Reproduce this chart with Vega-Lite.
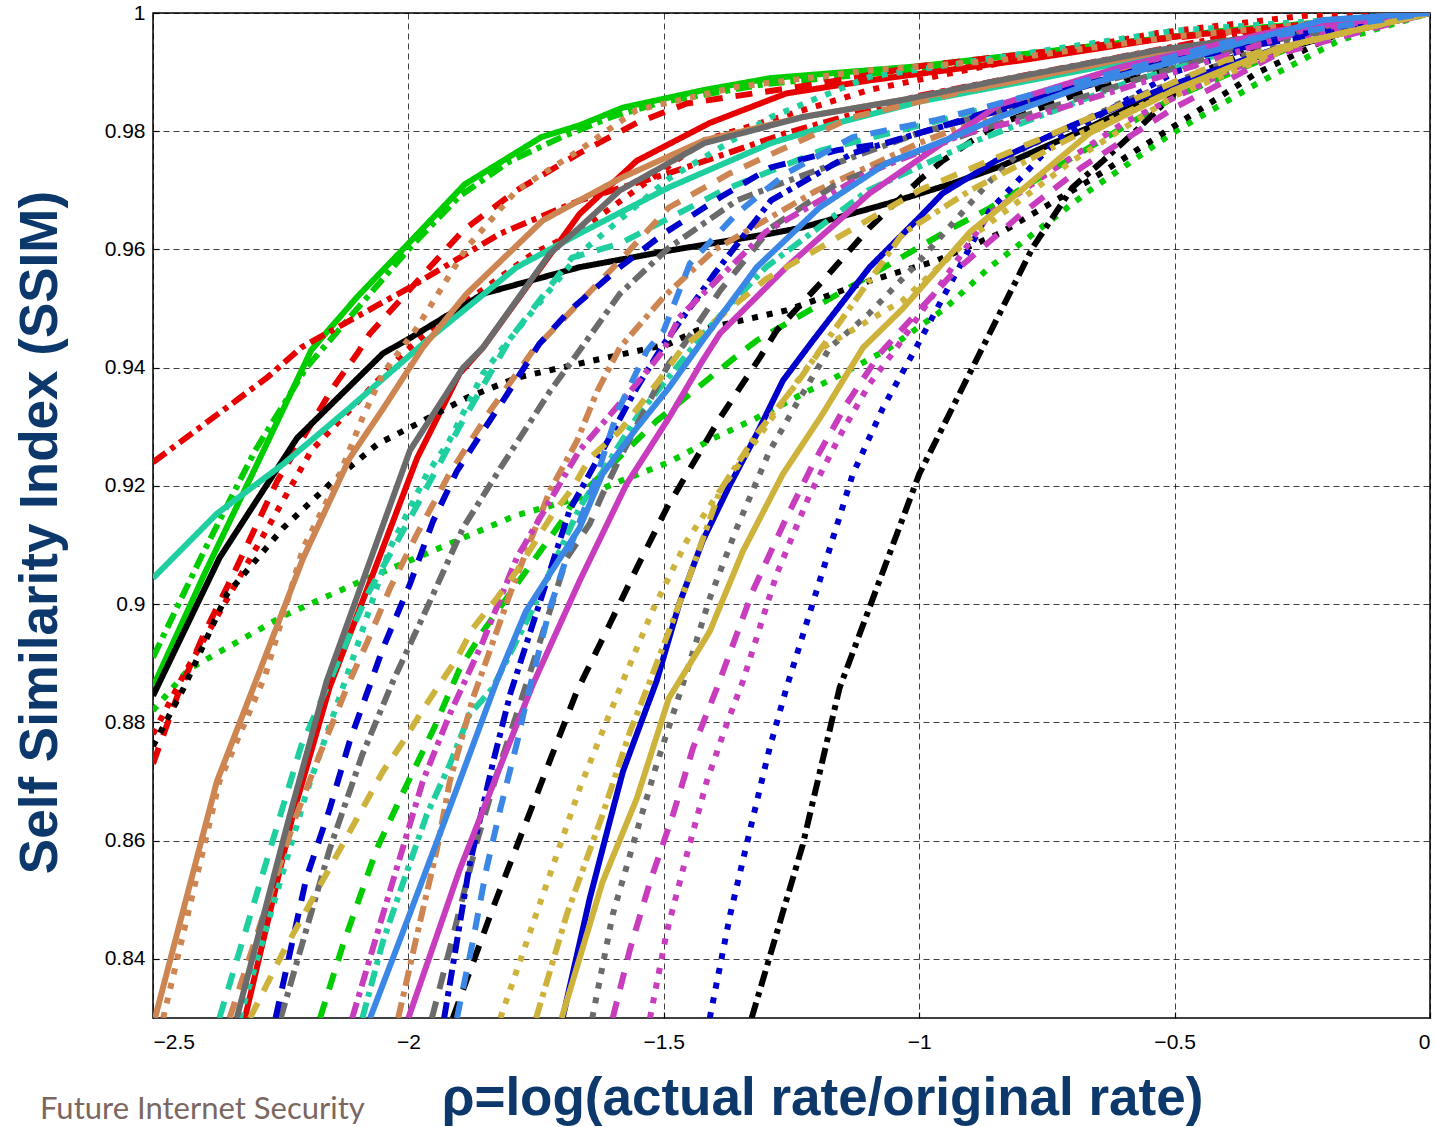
{
  "$schema": "https://vega.github.io/schema/vega-lite/v6.json",
  "width": 1277,
  "height": 1005,
  "autosize": {"type": "none"},
  "padding": {"left": 153, "top": 13, "right": 5, "bottom": 109},
  "background": "white",
  "title": {"text": "Future Internet Security", "orient": "bottom", "anchor": "start", "frame": "group", "font": "Lato", "fontSize": 31, "fontWeight": "normal", "color": "#7b675f", "dx": -113, "offset": -6, "baseline": "alphabetic"},
  "config": {
    "view": {"stroke": "#000000", "strokeWidth": 1.5},
    "axis": {"grid": true, "gridColor": "#000000", "gridDash": [6, 4], "gridOpacity": 0.75, "gridWidth": 1, "domain": false, "ticks": true, "tickSize": -6, "tickColor": "#000000", "tickWidth": 1.2, "labelFont": "Liberation Sans", "labelFontSize": 21, "labelColor": "#000000", "titleFont": "Liberation Sans", "titleFontSize": 53, "titleFontWeight": "bold", "titleColor": "#0c386b"}
  },
  "data": {"values": [
    {"s":"g1","x":-2.5,"y":0.886},{"s":"g1","x":-2.4,"y":0.905},{"s":"g1","x":-2.3,"y":0.923},{"s":"g1","x":-2.19,"y":0.943},{"s":"g1","x":-2.1,"y":0.952},{"s":"g1","x":-2.0,"y":0.961},{"s":"g1","x":-1.89,"y":0.971},{"s":"g1","x":-1.74,"y":0.979},{"s":"g1","x":-1.665,"y":0.981},{"s":"g1","x":-1.58,"y":0.984},{"s":"g1","x":-1.42,"y":0.987},{"s":"g1","x":-1.29,"y":0.989},{"s":"g1","x":-1.0,"y":0.991},{"s":"g1","x":-0.7,"y":0.994},{"s":"g1","x":-0.4,"y":0.997},{"s":"g1","x":0,"y":1},
    {"s":"g2","x":-2.5,"y":0.891},{"s":"g2","x":-2.4,"y":0.909},{"s":"g2","x":-2.3,"y":0.926},{"s":"g2","x":-2.2,"y":0.94},{"s":"g2","x":-2.1,"y":0.95},{"s":"g2","x":-2.0,"y":0.96},{"s":"g2","x":-1.9,"y":0.969},{"s":"g2","x":-1.8,"y":0.975},{"s":"g2","x":-1.7,"y":0.979},{"s":"g2","x":-1.6,"y":0.9825},{"s":"g2","x":-1.5,"y":0.985},{"s":"g2","x":-1.3,"y":0.988},{"s":"g2","x":-1.0,"y":0.9905},{"s":"g2","x":-0.7,"y":0.994},{"s":"g2","x":-0.4,"y":0.997},{"s":"g2","x":0,"y":1},
    {"s":"g3","x":-2.5,"y":0.882},{"s":"g3","x":-2.43,"y":0.889},{"s":"g3","x":-2.245,"y":0.898},{"s":"g3","x":-2.09,"y":0.904},{"s":"g3","x":-1.98,"y":0.908},{"s":"g3","x":-1.79,"y":0.915},{"s":"g3","x":-1.665,"y":0.918},{"s":"g3","x":-1.58,"y":0.921},{"s":"g3","x":-1.49,"y":0.924},{"s":"g3","x":-1.404,"y":0.928},{"s":"g3","x":-1.318,"y":0.9315},{"s":"g3","x":-1.23,"y":0.9355},{"s":"g3","x":-1.15,"y":0.939},{"s":"g3","x":-1.064,"y":0.943},{"s":"g3","x":-0.95,"y":0.95},{"s":"g3","x":-0.862,"y":0.957},{"s":"g3","x":-0.666,"y":0.97},{"s":"g3","x":-0.504,"y":0.9797},{"s":"g3","x":-0.34,"y":0.988},{"s":"g3","x":-0.177,"y":0.9954},{"s":"g3","x":0,"y":1},
    {"s":"g4","x":-2.173,"y":0.83},{"s":"g4","x":-2.128,"y":0.8424},{"s":"g4","x":-2.062,"y":0.8586},{"s":"g4","x":-2.003,"y":0.8695},{"s":"g4","x":-1.95,"y":0.879},{"s":"g4","x":-1.9,"y":0.889},{"s":"g4","x":-1.854,"y":0.8954},{"s":"g4","x":-1.7,"y":0.914},{"s":"g4","x":-1.68,"y":0.917},{"s":"g4","x":-1.514,"y":0.931},{"s":"g4","x":-1.357,"y":0.942},{"s":"g4","x":-1.318,"y":0.9446},{"s":"g4","x":-1.136,"y":0.9536},{"s":"g4","x":-0.934,"y":0.9637},{"s":"g4","x":-0.862,"y":0.967},{"s":"g4","x":-0.672,"y":0.977},{"s":"g4","x":-0.5,"y":0.9858},{"s":"g4","x":-0.25,"y":0.995},{"s":"g4","x":0,"y":1},
    {"s":"r1","x":-2.5,"y":0.924},{"s":"r1","x":-2.277,"y":0.9383},{"s":"r1","x":-2.21,"y":0.9434},{"s":"r1","x":-1.997,"y":0.9536},{"s":"r1","x":-1.82,"y":0.9627},{"s":"r1","x":-1.665,"y":0.9683},{"s":"r1","x":-1.49,"y":0.9729},{"s":"r1","x":-1.26,"y":0.9797},{"s":"r1","x":-1.0,"y":0.986},{"s":"r1","x":-0.7,"y":0.991},{"s":"r1","x":-0.4,"y":0.996},{"s":"r1","x":0,"y":1},
    {"s":"r2","x":-2.5,"y":0.873},{"s":"r2","x":-2.45,"y":0.885},{"s":"r2","x":-2.4,"y":0.895},{"s":"r2","x":-2.343,"y":0.905},{"s":"r2","x":-2.257,"y":0.9208},{"s":"r2","x":-2.148,"y":0.9366},{"s":"r2","x":-2.1,"y":0.9424},{"s":"r2","x":-2.075,"y":0.9458},{"s":"r2","x":-1.893,"y":0.9632},{"s":"r2","x":-1.788,"y":0.97},{"s":"r2","x":-1.665,"y":0.9763},{"s":"r2","x":-1.553,"y":0.9814},{"s":"r2","x":-1.455,"y":0.9847},{"s":"r2","x":-1.2,"y":0.988},{"s":"r2","x":-1.0,"y":0.991},{"s":"r2","x":-0.6,"y":0.995},{"s":"r2","x":0,"y":1},
    {"s":"r3","x":-2.5,"y":0.878},{"s":"r3","x":-2.44,"y":0.888},{"s":"r3","x":-2.29,"y":0.9107},{"s":"r3","x":-2.19,"y":0.926},{"s":"r3","x":-2.08,"y":0.936},{"s":"r3","x":-2.01,"y":0.9424},{"s":"r3","x":-1.93,"y":0.9485},{"s":"r3","x":-1.756,"y":0.9593},{"s":"r3","x":-1.665,"y":0.9632},{"s":"r3","x":-1.42,"y":0.9785},{"s":"r3","x":-1.097,"y":0.987},{"s":"r3","x":-0.843,"y":0.9915},{"s":"r3","x":-0.535,"y":0.9966},{"s":"r3","x":-0.25,"y":0.9995},{"s":"r3","x":0,"y":1},
    {"s":"r4","x":-2.32,"y":0.83},{"s":"r4","x":-2.226,"y":0.8644},{"s":"r4","x":-2.154,"y":0.886},{"s":"r4","x":-2.05,"y":0.9095},{"s":"r4","x":-1.983,"y":0.9247},{"s":"r4","x":-1.9,"y":0.939},{"s":"r4","x":-1.854,"y":0.9434},{"s":"r4","x":-1.665,"y":0.966},{"s":"r4","x":-1.553,"y":0.975},{"s":"r4","x":-1.41,"y":0.9814},{"s":"r4","x":-1.26,"y":0.9864},{"s":"r4","x":-1.097,"y":0.9886},{"s":"r4","x":-0.8,"y":0.992},{"s":"r4","x":-0.5,"y":0.996},{"s":"r4","x":0,"y":1},
    {"s":"k1","x":-2.5,"y":0.8845},{"s":"k1","x":-2.37,"y":0.9078},{"s":"k1","x":-2.218,"y":0.9281},{"s":"k1","x":-2.05,"y":0.9424},{"s":"k1","x":-1.997,"y":0.945},{"s":"k1","x":-1.854,"y":0.9525},{"s":"k1","x":-1.665,"y":0.957},{"s":"k1","x":-1.49,"y":0.9598},{"s":"k1","x":-1.29,"y":0.9627},{"s":"k1","x":-1.23,"y":0.9637},{"s":"k1","x":-1.06,"y":0.9678},{"s":"k1","x":-0.934,"y":0.9712},{"s":"k1","x":-0.843,"y":0.974},{"s":"k1","x":-0.666,"y":0.9807},{"s":"k1","x":-0.504,"y":0.9875},{"s":"k1","x":-0.34,"y":0.9925},{"s":"k1","x":-0.177,"y":0.9966},{"s":"k1","x":0,"y":1},
    {"s":"k2","x":-2.5,"y":0.876},{"s":"k2","x":-2.44,"y":0.8858},{"s":"k2","x":-2.355,"y":0.9017},{"s":"k2","x":-2.245,"y":0.9129},{"s":"k2","x":-2.148,"y":0.9208},{"s":"k2","x":-2.06,"y":0.9271},{"s":"k2","x":-1.983,"y":0.9305},{"s":"k2","x":-1.886,"y":0.9349},{"s":"k2","x":-1.788,"y":0.9383},{"s":"k2","x":-1.665,"y":0.9407},{"s":"k2","x":-1.49,"y":0.944},{"s":"k2","x":-1.435,"y":0.9463},{"s":"k2","x":-1.26,"y":0.9497},{"s":"k2","x":-1.097,"y":0.9547},{"s":"k2","x":-0.966,"y":0.9581},{"s":"k2","x":-0.843,"y":0.9627},{"s":"k2","x":-0.666,"y":0.9717},{"s":"k2","x":-0.504,"y":0.9807},{"s":"k2","x":-0.34,"y":0.9898},{"s":"k2","x":-0.177,"y":0.9966},{"s":"k2","x":0,"y":1},
    {"s":"k3","x":-1.913,"y":0.83},{"s":"k3","x":-1.835,"y":0.8485},{"s":"k3","x":-1.72,"y":0.8742},{"s":"k3","x":-1.67,"y":0.8853},{"s":"k3","x":-1.606,"y":0.8966},{"s":"k3","x":-1.553,"y":0.9061},{"s":"k3","x":-1.494,"y":0.9163},{"s":"k3","x":-1.455,"y":0.922},{"s":"k3","x":-1.39,"y":0.9315},{"s":"k3","x":-1.312,"y":0.9417},{"s":"k3","x":-1.279,"y":0.9463},{"s":"k3","x":-1.189,"y":0.9547},{"s":"k3","x":-1.097,"y":0.9637},{"s":"k3","x":-1.0,"y":0.9717},{"s":"k3","x":-0.954,"y":0.975},{"s":"k3","x":-0.895,"y":0.9785},{"s":"k3","x":-0.85,"y":0.981},{"s":"k3","x":-0.7,"y":0.986},{"s":"k3","x":-0.5,"y":0.991},{"s":"k3","x":-0.3,"y":0.996},{"s":"k3","x":0,"y":1},
    {"s":"k4","x":-1.328,"y":0.83},{"s":"k4","x":-1.228,"y":0.8593},{"s":"k4","x":-1.156,"y":0.8858},{"s":"k4","x":-1.0,"y":0.922},{"s":"k4","x":-0.876,"y":0.9434},{"s":"k4","x":-0.778,"y":0.9603},{"s":"k4","x":-0.7,"y":0.9705},{"s":"k4","x":-0.64,"y":0.975},{"s":"k4","x":-0.568,"y":0.9807},{"s":"k4","x":-0.47,"y":0.989},{"s":"k4","x":-0.3,"y":0.996},{"s":"k4","x":0,"y":1},
    {"s":"t1","x":-2.5,"y":0.9044},{"s":"t1","x":-2.375,"y":0.9153},{"s":"t1","x":-2.245,"y":0.9237},{"s":"t1","x":-2.115,"y":0.9332},{"s":"t1","x":-1.964,"y":0.9446},{"s":"t1","x":-1.788,"y":0.957},{"s":"t1","x":-1.665,"y":0.9627},{"s":"t1","x":-1.49,"y":0.9705},{"s":"t1","x":-1.29,"y":0.978},{"s":"t1","x":-1.16,"y":0.9814},{"s":"t1","x":-1.0,"y":0.985},{"s":"t1","x":-0.7,"y":0.99},{"s":"t1","x":-0.4,"y":0.995},{"s":"t1","x":0,"y":1},
    {"s":"t2","x":-2.33,"y":0.83},{"s":"t2","x":-2.2,"y":0.868},{"s":"t2","x":-2.1,"y":0.893},{"s":"t2","x":-2.036,"y":0.9095},{"s":"t2","x":-1.964,"y":0.922},{"s":"t2","x":-1.92,"y":0.9276},{"s":"t2","x":-1.854,"y":0.939},{"s":"t2","x":-1.815,"y":0.9434},{"s":"t2","x":-1.665,"y":0.9593},{"s":"t2","x":-1.49,"y":0.972},{"s":"t2","x":-1.29,"y":0.9824},{"s":"t2","x":-1.097,"y":0.9892},{"s":"t2","x":-0.843,"y":0.9925},{"s":"t2","x":-0.5,"y":0.997},{"s":"t2","x":0,"y":1},
    {"s":"t3","x":-2.37,"y":0.83},{"s":"t3","x":-2.21,"y":0.876},{"s":"t3","x":-2.154,"y":0.887},{"s":"t3","x":-2.08,"y":0.9017},{"s":"t3","x":-2.0,"y":0.914},{"s":"t3","x":-1.9,"y":0.93},{"s":"t3","x":-1.8,"y":0.945},{"s":"t3","x":-1.68,"y":0.9586},{"s":"t3","x":-1.586,"y":0.961},{"s":"t3","x":-1.384,"y":0.97},{"s":"t3","x":-1.19,"y":0.9768},{"s":"t3","x":-0.934,"y":0.9824},{"s":"t3","x":-0.7,"y":0.988},{"s":"t3","x":-0.4,"y":0.995},{"s":"t3","x":0,"y":1},
    {"s":"t4","x":-2.09,"y":0.83},{"s":"t4","x":-2.05,"y":0.8429},{"s":"t4","x":-2.01,"y":0.853},{"s":"t4","x":-1.964,"y":0.8644},{"s":"t4","x":-1.919,"y":0.8729},{"s":"t4","x":-1.88,"y":0.8814},{"s":"t4","x":-1.835,"y":0.8858},{"s":"t4","x":-1.756,"y":0.8993},{"s":"t4","x":-1.665,"y":0.9163},{"s":"t4","x":-1.55,"y":0.932},{"s":"t4","x":-1.42,"y":0.946},{"s":"t4","x":-1.3,"y":0.957},{"s":"t4","x":-1.1,"y":0.97},{"s":"t4","x":-0.9,"y":0.978},{"s":"t4","x":-0.6,"y":0.988},{"s":"t4","x":-0.3,"y":0.996},{"s":"t4","x":0,"y":1},
    {"s":"p1","x":-2.496,"y":0.83},{"s":"p1","x":-2.375,"y":0.87},{"s":"p1","x":-2.304,"y":0.8858},{"s":"p1","x":-2.206,"y":0.9078},{"s":"p1","x":-2.115,"y":0.9247},{"s":"p1","x":-2.05,"y":0.933},{"s":"p1","x":-1.972,"y":0.9434},{"s":"p1","x":-1.886,"y":0.9525},{"s":"p1","x":-1.737,"y":0.9649},{"s":"p1","x":-1.665,"y":0.9683},{"s":"p1","x":-1.586,"y":0.972},{"s":"p1","x":-1.42,"y":0.9785},{"s":"p1","x":-1.228,"y":0.9824},{"s":"p1","x":-1.032,"y":0.9853},{"s":"p1","x":-0.843,"y":0.988},{"s":"p1","x":-0.5,"y":0.994},{"s":"p1","x":0,"y":1},
    {"s":"p2","x":-2.48,"y":0.83},{"s":"p2","x":-2.37,"y":0.87},{"s":"p2","x":-2.28,"y":0.888},{"s":"p2","x":-2.206,"y":0.9095},{"s":"p2","x":-2.14,"y":0.9208},{"s":"p2","x":-2.09,"y":0.9315},{"s":"p2","x":-2.05,"y":0.939},{"s":"p2","x":-1.983,"y":0.9468},{"s":"p2","x":-1.886,"y":0.9603},{"s":"p2","x":-1.788,"y":0.97},{"s":"p2","x":-1.665,"y":0.9768},{"s":"p2","x":-1.553,"y":0.9836},{"s":"p2","x":-1.357,"y":0.9875},{"s":"p2","x":-1.097,"y":0.9903},{"s":"p2","x":-0.843,"y":0.992},{"s":"p2","x":-0.5,"y":0.996},{"s":"p2","x":0,"y":1},
    {"s":"p3","x":-2.35,"y":0.83},{"s":"p3","x":-2.222,"y":0.8637},{"s":"p3","x":-2.173,"y":0.8747},{"s":"p3","x":-2.12,"y":0.886},{"s":"p3","x":-2.08,"y":0.8937},{"s":"p3","x":-2.036,"y":0.9027},{"s":"p3","x":-1.983,"y":0.9119},{"s":"p3","x":-1.92,"y":0.922},{"s":"p3","x":-1.84,"y":0.9327},{"s":"p3","x":-1.756,"y":0.9429},{"s":"p3","x":-1.586,"y":0.9581},{"s":"p3","x":-1.49,"y":0.9671},{"s":"p3","x":-1.37,"y":0.9729},{"s":"p3","x":-1.26,"y":0.9773},{"s":"p3","x":-1.13,"y":0.9824},{"s":"p3","x":-0.9,"y":0.987},{"s":"p3","x":-0.5,"y":0.994},{"s":"p3","x":0,"y":1},
    {"s":"p4","x":-2.02,"y":0.83},{"s":"p4","x":-1.983,"y":0.8441},{"s":"p4","x":-1.944,"y":0.8586},{"s":"p4","x":-1.919,"y":0.87},{"s":"p4","x":-1.874,"y":0.884},{"s":"p4","x":-1.8,"y":0.902},{"s":"p4","x":-1.723,"y":0.9192},{"s":"p4","x":-1.67,"y":0.9276},{"s":"p4","x":-1.63,"y":0.9361},{"s":"p4","x":-1.586,"y":0.9434},{"s":"p4","x":-1.5,"y":0.952},{"s":"p4","x":-1.4,"y":0.96},{"s":"p4","x":-1.2,"y":0.97},{"s":"p4","x":-1.0,"y":0.978},{"s":"p4","x":-0.7,"y":0.988},{"s":"p4","x":-0.4,"y":0.995},{"s":"p4","x":0,"y":1},
    {"s":"y1","x":-2.336,"y":0.83},{"s":"y1","x":-2.232,"y":0.8644},{"s":"y1","x":-2.16,"y":0.887},{"s":"y1","x":-2.056,"y":0.9119},{"s":"y1","x":-1.997,"y":0.926},{"s":"y1","x":-1.893,"y":0.94},{"s":"y1","x":-1.854,"y":0.9434},{"s":"y1","x":-1.723,"y":0.9593},{"s":"y1","x":-1.665,"y":0.9637},{"s":"y1","x":-1.586,"y":0.97},{"s":"y1","x":-1.42,"y":0.978},{"s":"y1","x":-1.228,"y":0.9824},{"s":"y1","x":-1.032,"y":0.9853},{"s":"y1","x":-0.843,"y":0.9886},{"s":"y1","x":-0.535,"y":0.9937},{"s":"y1","x":0,"y":1},
    {"s":"y2","x":-2.25,"y":0.83},{"s":"y2","x":-2.154,"y":0.8586},{"s":"y2","x":-2.09,"y":0.8746},{"s":"y2","x":-2.03,"y":0.887},{"s":"y2","x":-1.964,"y":0.8993},{"s":"y2","x":-1.893,"y":0.9129},{"s":"y2","x":-1.82,"y":0.923},{"s":"y2","x":-1.723,"y":0.936},{"s":"y2","x":-1.665,"y":0.9429},{"s":"y2","x":-1.586,"y":0.9525},{"s":"y2","x":-1.49,"y":0.9603},{"s":"y2","x":-1.357,"y":0.9683},{"s":"y2","x":-1.26,"y":0.9715},{"s":"y2","x":-1.0,"y":0.9797},{"s":"y2","x":-0.7,"y":0.987},{"s":"y2","x":-0.4,"y":0.994},{"s":"y2","x":0,"y":1},
    {"s":"y3","x":-1.954,"y":0.83},{"s":"y3","x":-1.919,"y":0.8417},{"s":"y3","x":-1.866,"y":0.8598},{"s":"y3","x":-1.827,"y":0.8712},{"s":"y3","x":-1.788,"y":0.8814},{"s":"y3","x":-1.69,"y":0.9078},{"s":"y3","x":-1.645,"y":0.9136},{"s":"y3","x":-1.62,"y":0.9186},{"s":"y3","x":-1.586,"y":0.9247},{"s":"y3","x":-1.49,"y":0.9407},{"s":"y3","x":-1.46,"y":0.944},{"s":"y3","x":-1.39,"y":0.953},{"s":"y3","x":-1.29,"y":0.9637},{"s":"y3","x":-1.16,"y":0.9712},{"s":"y3","x":-1.032,"y":0.9756},{"s":"y3","x":-0.9,"y":0.9797},{"s":"y3","x":-0.6,"y":0.988},{"s":"y3","x":-0.3,"y":0.996},{"s":"y3","x":0,"y":1},
    {"s":"y4","x":-1.64,"y":0.83},{"s":"y4","x":-1.6,"y":0.8475},{"s":"y4","x":-1.553,"y":0.8615},{"s":"y4","x":-1.514,"y":0.8729},{"s":"y4","x":-1.463,"y":0.8864},{"s":"y4","x":-1.41,"y":0.901},{"s":"y4","x":-1.357,"y":0.9129},{"s":"y4","x":-1.293,"y":0.9259},{"s":"y4","x":-1.24,"y":0.9339},{"s":"y4","x":-1.175,"y":0.9434},{"s":"y4","x":-1.1,"y":0.949},{"s":"y4","x":-1.0,"y":0.958},{"s":"y4","x":-0.862,"y":0.9715},{"s":"y4","x":-0.797,"y":0.977},{"s":"y4","x":-0.6,"y":0.985},{"s":"y4","x":-0.3,"y":0.995},{"s":"y4","x":0,"y":1},
    {"s":"b1","x":-1.698,"y":0.83},{"s":"b1","x":-1.645,"y":0.8502},{"s":"b1","x":-1.606,"y":0.8632},{"s":"b1","x":-1.58,"y":0.8717},{"s":"b1","x":-1.553,"y":0.878},{"s":"b1","x":-1.514,"y":0.887},{"s":"b1","x":-1.47,"y":0.9},{"s":"b1","x":-1.424,"y":0.9107},{"s":"b1","x":-1.37,"y":0.9203},{"s":"b1","x":-1.318,"y":0.9288},{"s":"b1","x":-1.267,"y":0.9378},{"s":"b1","x":-1.208,"y":0.9446},{"s":"b1","x":-1.097,"y":0.957},{"s":"b1","x":-1.0,"y":0.9654},{"s":"b1","x":-0.954,"y":0.9695},{"s":"b1","x":-0.85,"y":0.975},{"s":"b1","x":-0.7,"y":0.981},{"s":"b1","x":-0.5,"y":0.988},{"s":"b1","x":-0.3,"y":0.994},{"s":"b1","x":0,"y":1},
    {"s":"b2","x":-2.26,"y":0.83},{"s":"b2","x":-2.2,"y":0.8536},{"s":"b2","x":-2.154,"y":0.8654},{"s":"b2","x":-2.115,"y":0.8768},{"s":"b2","x":-2.075,"y":0.8864},{"s":"b2","x":-2.05,"y":0.8925},{"s":"b2","x":-1.997,"y":0.9034},{"s":"b2","x":-1.952,"y":0.914},{"s":"b2","x":-1.905,"y":0.9225},{"s":"b2","x":-1.854,"y":0.9293},{"s":"b2","x":-1.815,"y":0.9344},{"s":"b2","x":-1.743,"y":0.9441},{"s":"b2","x":-1.684,"y":0.9497},{"s":"b2","x":-1.586,"y":0.957},{"s":"b2","x":-1.5,"y":0.9627},{"s":"b2","x":-1.39,"y":0.9688},{"s":"b2","x":-1.29,"y":0.9739},{"s":"b2","x":-1.16,"y":0.9768},{"s":"b2","x":-1.064,"y":0.978},{"s":"b2","x":-0.8,"y":0.985},{"s":"b2","x":-0.5,"y":0.992},{"s":"b2","x":0,"y":1},
    {"s":"b3","x":-1.93,"y":0.83},{"s":"b3","x":-1.88,"y":0.856},{"s":"b3","x":-1.835,"y":0.873},{"s":"b3","x":-1.8,"y":0.885},{"s":"b3","x":-1.684,"y":0.916},{"s":"b3","x":-1.62,"y":0.926},{"s":"b3","x":-1.553,"y":0.9366},{"s":"b3","x":-1.5,"y":0.944},{"s":"b3","x":-1.4,"y":0.956},{"s":"b3","x":-1.29,"y":0.9683},{"s":"b3","x":-1.13,"y":0.9763},{"s":"b3","x":-1.0,"y":0.9797},{"s":"b3","x":-0.7,"y":0.987},{"s":"b3","x":-0.4,"y":0.995},{"s":"b3","x":0,"y":1},
    {"s":"b4","x":-1.41,"y":0.83},{"s":"b4","x":-1.37,"y":0.8475},{"s":"b4","x":-1.332,"y":0.8615},{"s":"b4","x":-1.293,"y":0.8756},{"s":"b4","x":-1.26,"y":0.8858},{"s":"b4","x":-1.195,"y":0.9039},{"s":"b4","x":-1.13,"y":0.922},{"s":"b4","x":-1.071,"y":0.9332},{"s":"b4","x":-1.006,"y":0.9434},{"s":"b4","x":-0.862,"y":0.9666},{"s":"b4","x":-0.731,"y":0.9785},{"s":"b4","x":-0.5,"y":0.99},{"s":"b4","x":-0.25,"y":0.997},{"s":"b4","x":0,"y":1},
    {"s":"m1","x":-2.0,"y":0.83},{"s":"m1","x":-1.9,"y":0.855},{"s":"m1","x":-1.8,"y":0.877},{"s":"m1","x":-1.756,"y":0.8865},{"s":"m1","x":-1.665,"y":0.9039},{"s":"m1","x":-1.573,"y":0.9203},{"s":"m1","x":-1.49,"y":0.9315},{"s":"m1","x":-1.424,"y":0.9412},{"s":"m1","x":-1.39,"y":0.9458},{"s":"m1","x":-1.26,"y":0.957},{"s":"m1","x":-1.097,"y":0.9695},{"s":"m1","x":-0.966,"y":0.9773},{"s":"m1","x":-0.843,"y":0.9845},{"s":"m1","x":-0.6,"y":0.991},{"s":"m1","x":-0.3,"y":0.997},{"s":"m1","x":0,"y":1},
    {"s":"m2","x":-2.11,"y":0.83},{"s":"m2","x":-2.05,"y":0.8475},{"s":"m2","x":-1.972,"y":0.87},{"s":"m2","x":-1.919,"y":0.8814},{"s":"m2","x":-1.854,"y":0.8937},{"s":"m2","x":-1.788,"y":0.9078},{"s":"m2","x":-1.723,"y":0.9175},{"s":"m2","x":-1.665,"y":0.926},{"s":"m2","x":-1.553,"y":0.9373},{"s":"m2","x":-1.5,"y":0.943},{"s":"m2","x":-1.47,"y":0.9485},{"s":"m2","x":-1.3,"y":0.963},{"s":"m2","x":-1.1,"y":0.973},{"s":"m2","x":-0.907,"y":0.9797},{"s":"m2","x":-0.797,"y":0.9819},{"s":"m2","x":-0.5,"y":0.99},{"s":"m2","x":-0.25,"y":0.997},{"s":"m2","x":0,"y":1},
    {"s":"m3","x":-1.6,"y":0.83},{"s":"m3","x":-1.566,"y":0.8417},{"s":"m3","x":-1.527,"y":0.853},{"s":"m3","x":-1.482,"y":0.8644},{"s":"m3","x":-1.443,"y":0.8756},{"s":"m3","x":-1.396,"y":0.8858},{"s":"m3","x":-1.326,"y":0.9022},{"s":"m3","x":-1.26,"y":0.9146},{"s":"m3","x":-1.208,"y":0.9237},{"s":"m3","x":-1.142,"y":0.9339},{"s":"m3","x":-1.077,"y":0.9424},{"s":"m3","x":-0.934,"y":0.956},{"s":"m3","x":-0.8,"y":0.966},{"s":"m3","x":-0.68,"y":0.974},{"s":"m3","x":-0.5,"y":0.984},{"s":"m3","x":-0.3,"y":0.993},{"s":"m3","x":0,"y":1},
    {"s":"m4","x":-1.527,"y":0.83},{"s":"m4","x":-1.494,"y":0.8446},{"s":"m4","x":-1.455,"y":0.8576},{"s":"m4","x":-1.416,"y":0.87},{"s":"m4","x":-1.377,"y":0.8797},{"s":"m4","x":-1.345,"y":0.887},{"s":"m4","x":-1.279,"y":0.9051},{"s":"m4","x":-1.214,"y":0.9186},{"s":"m4","x":-1.15,"y":0.9293},{"s":"m4","x":-1.097,"y":0.9373},{"s":"m4","x":-1.044,"y":0.9434},{"s":"m4","x":-0.862,"y":0.9661},{"s":"m4","x":-0.731,"y":0.9739},{"s":"m4","x":-0.6,"y":0.9814},{"s":"m4","x":-0.4,"y":0.99},{"s":"m4","x":-0.2,"y":0.997},{"s":"m4","x":0,"y":1},
    {"s":"o1","x":-1.7,"y":0.83},{"s":"o1","x":-1.62,"y":0.853},{"s":"o1","x":-1.553,"y":0.8671},{"s":"o1","x":-1.49,"y":0.8841},{"s":"o1","x":-1.41,"y":0.8954},{"s":"o1","x":-1.345,"y":0.909},{"s":"o1","x":-1.267,"y":0.922},{"s":"o1","x":-1.189,"y":0.9322},{"s":"o1","x":-1.11,"y":0.9434},{"s":"o1","x":-1.032,"y":0.95},{"s":"o1","x":-0.9,"y":0.963},{"s":"o1","x":-0.8,"y":0.97},{"s":"o1","x":-0.666,"y":0.9797},{"s":"o1","x":-0.5,"y":0.987},{"s":"o1","x":-0.3,"y":0.994},{"s":"o1","x":0,"y":1},
    {"s":"o2","x":-1.75,"y":0.83},{"s":"o2","x":-1.69,"y":0.8475},{"s":"o2","x":-1.62,"y":0.8644},{"s":"o2","x":-1.566,"y":0.8785},{"s":"o2","x":-1.527,"y":0.887},{"s":"o2","x":-1.455,"y":0.9034},{"s":"o2","x":-1.39,"y":0.9192},{"s":"o2","x":-1.318,"y":0.9288},{"s":"o2","x":-1.24,"y":0.9373},{"s":"o2","x":-1.195,"y":0.9429},{"s":"o2","x":-1.032,"y":0.9627},{"s":"o2","x":-0.9,"y":0.97},{"s":"o2","x":-0.7,"y":0.979},{"s":"o2","x":-0.5,"y":0.987},{"s":"o2","x":-0.25,"y":0.995},{"s":"o2","x":0,"y":1},
    {"s":"o3","x":-1.82,"y":0.83},{"s":"o3","x":-1.74,"y":0.85},{"s":"o3","x":-1.664,"y":0.869},{"s":"o3","x":-1.62,"y":0.8785},{"s":"o3","x":-1.58,"y":0.887},{"s":"o3","x":-1.52,"y":0.8993},{"s":"o3","x":-1.455,"y":0.9107},{"s":"o3","x":-1.39,"y":0.9192},{"s":"o3","x":-1.306,"y":0.9293},{"s":"o3","x":-1.228,"y":0.939},{"s":"o3","x":-1.189,"y":0.9434},{"s":"o3","x":-1.032,"y":0.9514},{"s":"o3","x":-0.9,"y":0.962},{"s":"o3","x":-0.7,"y":0.975},{"s":"o3","x":-0.5,"y":0.986},{"s":"o3","x":-0.25,"y":0.995},{"s":"o3","x":0,"y":1},
    {"s":"o4","x":-2.31,"y":0.83},{"s":"o4","x":-2.245,"y":0.8412},{"s":"o4","x":-2.115,"y":0.8615},{"s":"o4","x":-2.05,"y":0.8717},{"s":"o4","x":-2.01,"y":0.8768},{"s":"o4","x":-1.977,"y":0.8814},{"s":"o4","x":-1.944,"y":0.8858},{"s":"o4","x":-1.905,"y":0.8908},{"s":"o4","x":-1.874,"y":0.8959},{"s":"o4","x":-1.827,"y":0.901},{"s":"o4","x":-1.788,"y":0.9056},{"s":"o4","x":-1.717,"y":0.9153},{"s":"o4","x":-1.678,"y":0.9197},{"s":"o4","x":-1.645,"y":0.9247},{"s":"o4","x":-1.586,"y":0.9293},{"s":"o4","x":-1.514,"y":0.9373},{"s":"o4","x":-1.463,"y":0.9434},{"s":"o4","x":-1.3,"y":0.955},{"s":"o4","x":-1.0,"y":0.97},{"s":"o4","x":-0.7,"y":0.981},{"s":"o4","x":-0.4,"y":0.992},{"s":"o4","x":0,"y":1},
    {"s":"d1","x":-2.075,"y":0.83},{"s":"d1","x":-2.0,"y":0.847},{"s":"d1","x":-1.9,"y":0.87},{"s":"d1","x":-1.827,"y":0.887},{"s":"d1","x":-1.77,"y":0.8988},{"s":"d1","x":-1.665,"y":0.9129},{"s":"d1","x":-1.62,"y":0.922},{"s":"d1","x":-1.553,"y":0.9298},{"s":"d1","x":-1.49,"y":0.9366},{"s":"d1","x":-1.424,"y":0.9446},{"s":"d1","x":-1.318,"y":0.957},{"s":"d1","x":-1.195,"y":0.9671},{"s":"d1","x":-1.064,"y":0.9746},{"s":"d1","x":-0.934,"y":0.979},{"s":"d1","x":-0.843,"y":0.9824},{"s":"d1","x":-0.666,"y":0.988},{"s":"d1","x":-0.47,"y":0.9925},{"s":"d1","x":-0.21,"y":0.9988},{"s":"d1","x":0,"y":1},
    {"s":"d2","x":-1.905,"y":0.83},{"s":"d2","x":-1.874,"y":0.8429},{"s":"d2","x":-1.847,"y":0.8553},{"s":"d2","x":-1.82,"y":0.8654},{"s":"d2","x":-1.788,"y":0.8763},{"s":"d2","x":-1.768,"y":0.884},{"s":"d2","x":-1.723,"y":0.8993},{"s":"d2","x":-1.684,"y":0.9095},{"s":"d2","x":-1.63,"y":0.922},{"s":"d2","x":-1.59,"y":0.9327},{"s":"d2","x":-1.533,"y":0.9429},{"s":"d2","x":-1.5,"y":0.9463},{"s":"d2","x":-1.449,"y":0.9576},{"s":"d2","x":-1.357,"y":0.9661},{"s":"d2","x":-1.26,"y":0.9729},{"s":"d2","x":-1.13,"y":0.979},{"s":"d2","x":-0.966,"y":0.9819},{"s":"d2","x":-0.7,"y":0.988},{"s":"d2","x":-0.4,"y":0.995},{"s":"d2","x":0,"y":1}
  ]},
  "transform": [
    {"lookup": "s", "from": {"data": {"values": [
      {"s":"g1","c":"green","d":"solid"},{"s":"g2","c":"green","d":"dashdot"},{"s":"g3","c":"green","d":"dotted"},{"s":"g4","c":"green","d":"dashed"},
      {"s":"r1","c":"red","d":"dashdot"},{"s":"r2","c":"red","d":"dashed"},{"s":"r3","c":"red","d":"dotted"},{"s":"r4","c":"red","d":"solid"},
      {"s":"k1","c":"black","d":"solid"},{"s":"k2","c":"black","d":"dotted"},{"s":"k3","c":"black","d":"dashed"},{"s":"k4","c":"black","d":"dashdot"},
      {"s":"t1","c":"teal","d":"solid"},{"s":"t2","c":"teal","d":"dotted"},{"s":"t3","c":"teal","d":"dashed"},{"s":"t4","c":"teal","d":"dashdot"},
      {"s":"p1","c":"peru","d":"solid"},{"s":"p2","c":"peru","d":"dotted"},{"s":"p3","c":"peru","d":"dashed"},{"s":"p4","c":"peru","d":"dashdot"},
      {"s":"y1","c":"gray","d":"solid"},{"s":"y2","c":"gray","d":"dashdot"},{"s":"y3","c":"gray","d":"dashed"},{"s":"y4","c":"gray","d":"dotted"},
      {"s":"b1","c":"blue","d":"solid"},{"s":"b2","c":"blue","d":"dashed"},{"s":"b3","c":"blue","d":"dashdot"},{"s":"b4","c":"blue","d":"dotted"},
      {"s":"m1","c":"magenta","d":"solid"},{"s":"m2","c":"magenta","d":"dashdot"},{"s":"m3","c":"magenta","d":"dashed"},{"s":"m4","c":"magenta","d":"dotted"},
      {"s":"o1","c":"gold","d":"solid"},{"s":"o2","c":"gold","d":"dashdot"},{"s":"o3","c":"gold","d":"dotted"},{"s":"o4","c":"gold","d":"dashed"},
      {"s":"d1","c":"dodger","d":"solid"},{"s":"d2","c":"dodger","d":"dashed"}
    ]}, "key": "s", "fields": ["c", "d"]}}
  ],
  "mark": {"type": "line", "strokeWidth": 6, "strokeCap": "butt", "strokeJoin": "round", "clip": true},
  "encoding": {
    "x": {"field": "x", "type": "quantitative", "scale": {"domain": [-2.5, 0], "nice": false, "zero": false},
      "axis": {"values": [-2.5, -2, -1.5, -1, -0.5, 0], "format": "~g", "labelPadding": 19, "title": "ρ=log(actual rate/original rate)", "titleX": 669, "titleY": 80, "titleBaseline": "middle", "titleAnchor": null}},
    "y": {"field": "y", "type": "quantitative", "scale": {"domain": [0.83, 1], "nice": false, "zero": false},
      "axis": {"values": [0.84, 0.86, 0.88, 0.9, 0.92, 0.94, 0.96, 0.98, 1], "format": "~g", "labelPadding": 14, "title": "Self Similarity Index (SSIM)", "titleX": -113, "titleY": 519, "titleBaseline": "middle", "titleAngle": -90}},
    "detail": {"field": "s"},
    "color": {"field": "c", "type": "nominal", "legend": null,
      "scale": {"domain": ["green", "red", "black", "teal", "peru", "gray", "blue", "magenta", "gold", "dodger"], "range": ["#00cc00", "#e60000", "#000000", "#1fcf9f", "#cd8552", "#6b6b6b", "#0000cc", "#c83cbe", "#cdb33c", "#3b87e6"]}},
    "strokeDash": {"field": "d", "type": "nominal", "legend": null,
      "scale": {"domain": ["solid", "dashed", "dotted", "dashdot"], "range": [[1, 0], [17, 13], [6, 9], [16, 6, 5, 6]]}}
  }
}
